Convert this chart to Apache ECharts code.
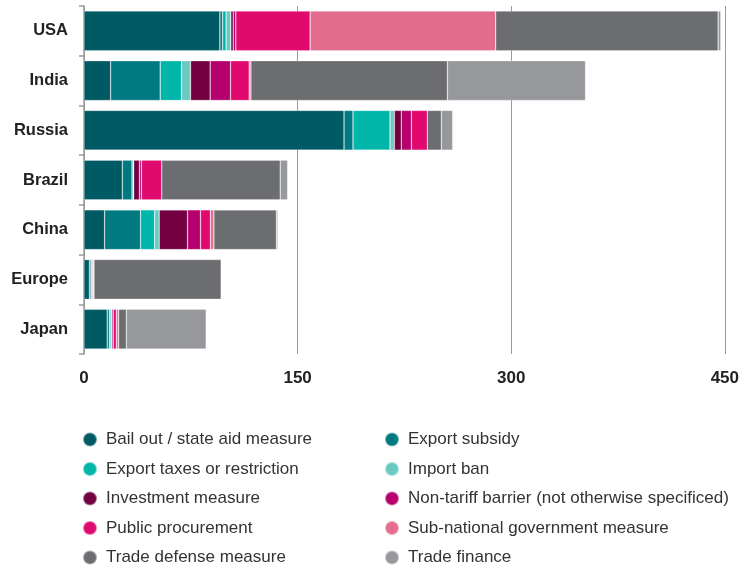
<!DOCTYPE html>
<html><head><meta charset="utf-8">
<script src="https://cdn.jsdelivr.net/npm/echarts@6/dist/echarts.min.js"></script>
<style>html,body{margin:0;padding:0;background:#fff}#c{width:742px;height:566px}</style>
</head><body><div id="c"></div>
<script>
const categories = ['USA', 'India', 'Russia', 'Brazil', 'China', 'Europe', 'Japan'];
const xTicks = [0, 150, 300, 450];
const seriesNames = ['Bail out / state aid measure', 'Export subsidy', 'Export taxes or restriction', 'Import ban', 'Investment measure', 'Non-tariff barrier (not otherwise specificed)', 'Public procurement', 'Sub-national government measure', 'Trade defense measure', 'Trade finance'];
const bailOut = [95.4, 18.7, 182.6, 26.9, 14.5, 3.8, 16.3];
const exportSubsidy = [1.9, 34.8, 6.3, 6.8, 25.2, 1.1, 1.5];
const exportTaxes = [2.5, 15.0, 26.0, 0.9, 9.9, 0.7, 1.1];
const importBan = [3.3, 6.3, 3.0, 0.3, 3.2, 0.3, 0.7];
const investment = [1.7, 13.8, 4.9, 4.0, 19.9, 0, 0];
const nonTariff = [1.8, 14.3, 7.1, 1.4, 9.1, 0.6, 1.0];
const publicProcurement = [52.2, 13.1, 11.2, 14.3, 7.0, 0.5, 2.1];
const subNational = [130.3, 1.2, 0, 0, 2.4, 0, 1.6];
const tradeDefense = [156.2, 138.0, 9.8, 83.2, 43.9, 89.3, 5.4];
const tradeFinance = [1.9, 97.0, 8.0, 5.2, 1.0, 0, 56.1];

const values = [bailOut, exportSubsidy, exportTaxes, importBan, investment, nonTariff, publicProcurement, subNational, tradeDefense, tradeFinance];
const colors = ['#005a64', '#007a80', '#00b5aa', '#6acac2', '#730040', '#b5006e', '#e0096e', '#e36c8e', '#6c6d70', '#97989b'];

const chart = echarts.init(document.getElementById('c'));
const legendText = {fontSize: 17, color: '#333', fontFamily: 'Liberation Sans, Arial, sans-serif', padding: [0, 0, 0, 4]};
const legendBase = {orient: 'vertical', top: 426, height: 200, icon: 'circle', itemWidth: 14, itemHeight: 14, itemGap: 12.5, textStyle: legendText};
chart.setOption({
  animation: false,
  color: colors,
  grid: {left: 84, right: 16, top: 6, bottom: 212},
  xAxis: {
    type: 'value', min: 0, max: 450, interval: 150,
    axisLine: {show: false}, axisTick: {show: false},
    splitLine: {show: true, lineStyle: {color: '#9a9a9a', width: 1}},
    axisLabel: {margin: 16, fontSize: 17, fontWeight: 'bold', color: '#222', fontFamily: 'Liberation Sans Narrow, Liberation Sans, Arial, sans-serif',
      formatter: v => xTicks.includes(v) ? String(v) : ''}
  },
  yAxis: {
    type: 'category', data: categories, inverse: true,
    axisLine: {show: true, lineStyle: {color: '#9a9a9a', width: 1.5}},
    axisTick: {show: true, length: 5, lineStyle: {color: '#9a9a9a', width: 1.5}},
    axisLabel: {margin: 16, fontSize: 16.5, fontWeight: 'bold', color: '#222', fontFamily: 'Liberation Sans, Arial, sans-serif'}
  },
  legend: [
    Object.assign({data: seriesNames.filter((n, i) => i % 2 === 0), left: 77}, legendBase),
    Object.assign({data: seriesNames.filter((n, i) => i % 2 === 1), left: 379}, legendBase)
  ],
  series: seriesNames.map((name, i) => ({
    name, type: 'bar', stack: 'all', barWidth: '80%',
    data: values[i].map(v => v === 0 ? '-' : v),
    itemStyle: {borderColor: 'rgba(255,255,255,0.45)', borderWidth: 0.6}
  }))
});
</script></body></html>
